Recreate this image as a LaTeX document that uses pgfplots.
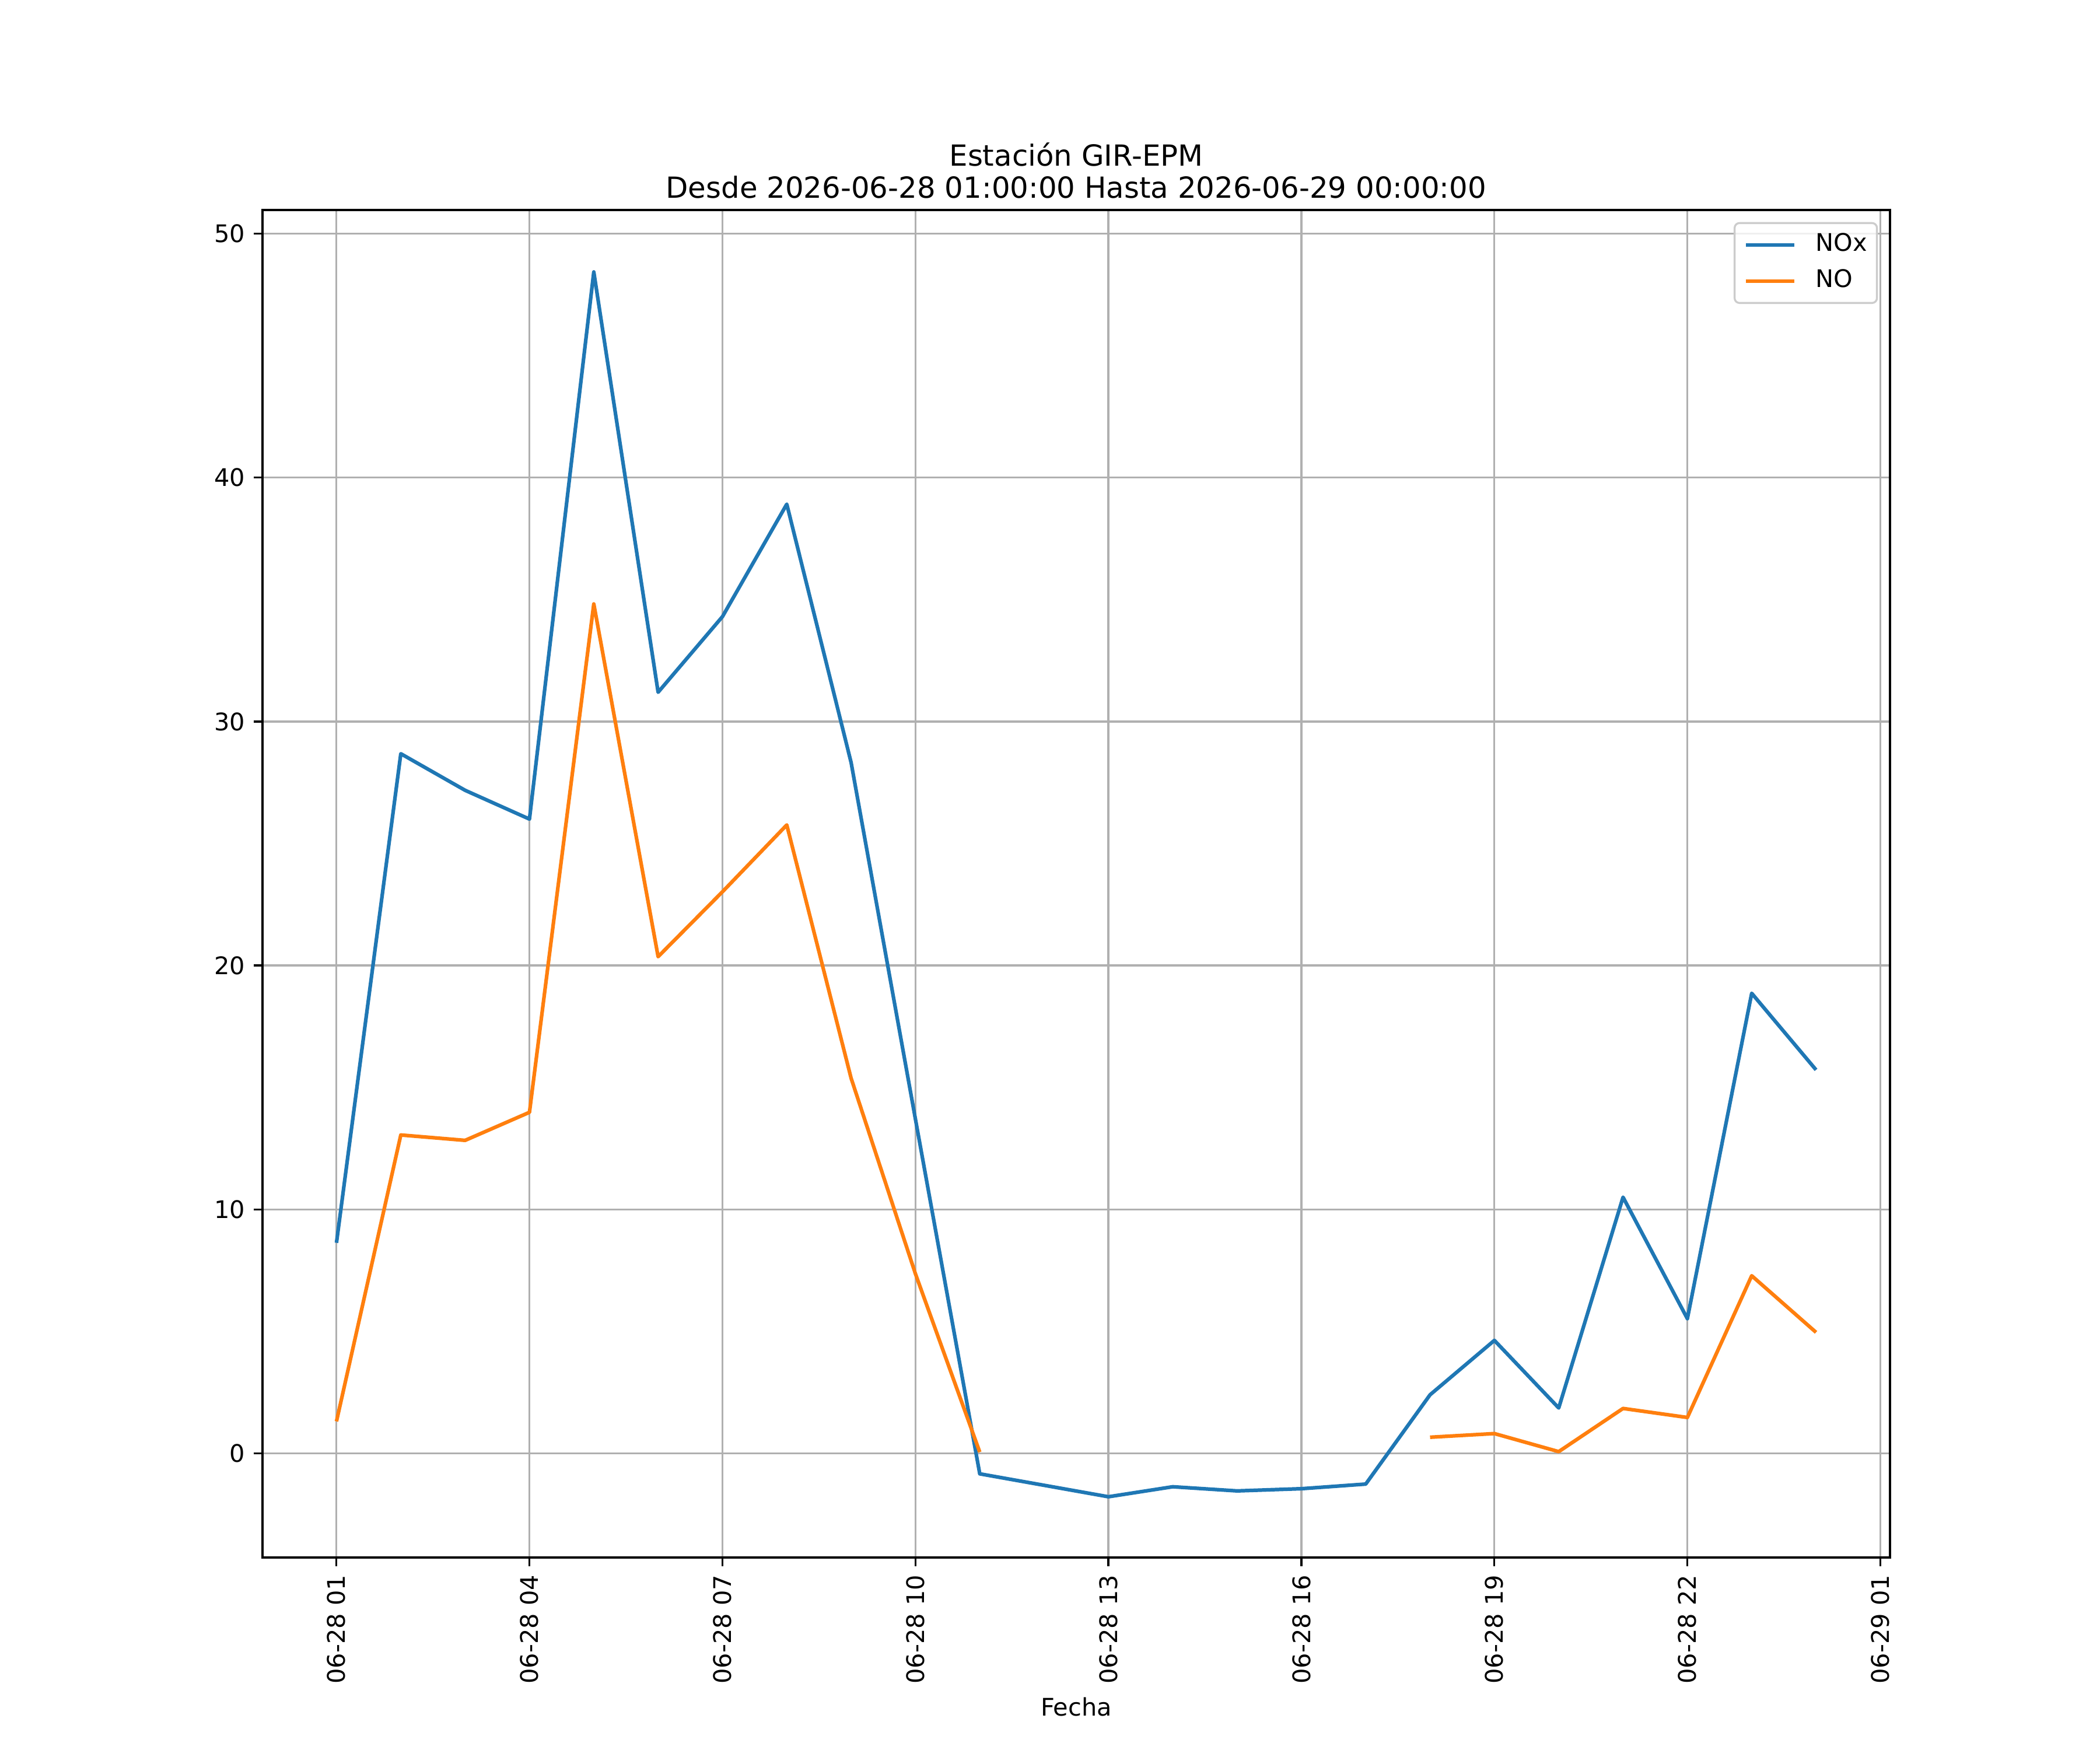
\documentclass[border=0pt]{standalone}
\usepackage{fontspec}
\setmainfont{DejaVu Sans}
\usepackage{pgfplots}
\usepackage{pgfplotstable}
\pgfplotsset{compat=1.18}
\definecolor{c0}{HTML}{1F77B4}
\definecolor{c1}{HTML}{FF7F0E}
\definecolor{gridc}{HTML}{B0B0B0}
\definecolor{legc}{HTML}{CCCCCC}

\pgfplotstableread{
x nox no
0 8.63 1.31
1 28.68 13.05
2 27.18 12.83
3 26.00 13.98
4 48.43 34.82
5 31.20 20.36
6 34.30 23.02
7 38.91 25.76
8 28.32 15.38
9 13.70 7.36
10 -0.84 0.05
11 -1.31 nan
12 -1.78 nan
13 -1.37 nan
14 -1.54 nan
15 -1.45 nan
16 -1.26 nan
17 2.40 0.66
18 4.63 0.81
19 1.86 0.07
20 10.50 1.84
21 5.52 1.47
22 18.86 7.28
23 15.72 4.96
}\datatable

\begin{document}
\begin{tikzpicture}
\path[use as bounding box] (-1.5in,-1.1in) rectangle (10.5in,8.9in);
\begin{axis}[
  at={(0,0)}, anchor=south west,
  scale only axis, width=9.3in, height=7.7in,
  xmin=-1.15, xmax=24.15, ymin=-4.27, ymax=50.97,
  xtick={0,3,...,24},
  xticklabels={06-28 01,06-28 04,06-28 07,06-28 10,06-28 13,06-28 16,06-28 19,06-28 22,06-29 01},
  ytick={0,10,20,30,40,50},
  /pgf/number format/assume math mode=true,
  xtick pos=left, ytick pos=left,
  tick align=outside, major tick length=3.5pt,
  tick style={black, line width=0.8pt},
  axis line style={black, line width=0.8pt},
  grid=major, major grid style={gridc, line width=0.8pt},
  xticklabel style={yshift=-3.5pt, rotate=90, anchor=east, inner sep=0pt, font=\fontsize{10}{12}\selectfont},
  yticklabel style={xshift=-3.5pt, inner sep=0pt, font=\fontsize{10}{12}\selectfont},
  xlabel={Fecha},
  xlabel style={font=\fontsize{10}{12}\selectfont, inner sep=0pt, yshift=-5.5pt},
  title={Estación GIR-EPM\\Desde 2026-06-28 01:00:00 Hasta 2026-06-29 00:00:00},
  title style={align=center, font=\fontsize{12}{13.2}\selectfont, inner sep=0pt, yshift=-1.4pt},
  unbounded coords=jump,
  legend style={at={(1,1)}, anchor=north east, xshift=-5pt, yshift=-5pt,
    draw=legc, line width=0.8pt, rounded corners=2pt, fill=white, fill opacity=0.8, text opacity=1,
    draw opacity=1, inner xsep=4pt, inner ysep=4pt, row sep=5pt, column sep=8pt,
    nodes={inner sep=0pt, text height=7.5pt, text depth=2.5pt}, font=\fontsize{10}{12}\selectfont},
  legend cell align=left,
  legend image code/.code={\draw[#1] (0pt,0pt) -- (20pt,0pt);},
]
\addplot[c0, line width=1.5pt, line join=round] table[x=x, y=nox]{\datatable};
\addlegendentry{NOx}
\addplot[c1, line width=1.5pt, line join=round] table[x=x, y=no]{\datatable};
\addlegendentry{NO}
\end{axis}
\end{tikzpicture}
\end{document}
